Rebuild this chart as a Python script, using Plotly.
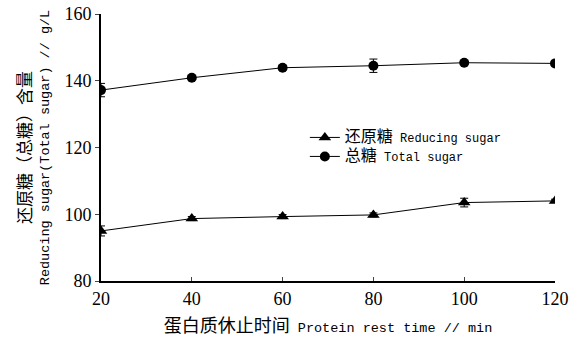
import plotly.graph_objects as go

x_time = [20, 40, 60, 80, 100, 120]
reducing_sugar = [95.0, 98.7, 99.3, 99.8, 103.5, 104.0]
reducing_err = [1.5, 0.6, 0.6, 0.6, 1.3, 0.5]
total_sugar = [137.2, 140.9, 143.9, 144.5, 145.4, 145.2]
total_err = [2.0, 0.6, 0.7, 2.0, 0.6, 0.5]

y_ticks = [80, 100, 120, 140, 160]
x_ticks = [20, 40, 60, 80, 100, 120]

MONO = "Liberation Mono, Noto Sans CJK SC, monospace"
SERIF = "Liberation Serif, Times New Roman, serif"


def cjk(s, size):
    return f'<span style="font-size:{size}px">{s}</span>'


fig = go.Figure()
fig.add_trace(go.Scatter(
    x=x_time, y=reducing_sugar, mode="lines+markers",
    name=cjk("还原糖", 16) + " Reducing sugar",
    line=dict(color="black", width=1),
    marker=dict(symbol="triangle-up", size=11, color="black"),
    error_y=dict(type="data", array=reducing_err, color="black", thickness=1, width=4),
))
fig.add_trace(go.Scatter(
    x=x_time, y=total_sugar, mode="lines+markers",
    name=cjk("总糖", 16) + " Total sugar",
    line=dict(color="black", width=1),
    marker=dict(symbol="circle", size=10, color="black"),
    error_y=dict(type="data", array=total_err, color="black", thickness=1, width=4),
))

fig.update_layout(
    width=582, height=344,
    margin=dict(l=101, r=27, t=14, b=63),
    paper_bgcolor="white", plot_bgcolor="white",
    showlegend=True,
    legend=dict(x=0.449, y=0.592, xanchor="left", yanchor="top",
                bgcolor="rgba(0,0,0,0)", font=dict(family=MONO, size=12, color="black"),
                tracegroupgap=0, itemsizing="trace"),
    xaxis=dict(range=[20, 120], tickvals=x_ticks, ticks="inside", ticklen=4,
               showline=True, linecolor="black", linewidth=2, showgrid=False, zeroline=False,
               automargin=False,
               tickfont=dict(family=SERIF, size=18, color="black"),
               title=dict(text=cjk("蛋白质休止时间", 18) + " Protein rest time // min",
                          font=dict(family=MONO, size=13.5, color="black"), standoff=15)),
    yaxis=dict(range=[80, 160], tickvals=y_ticks, ticks="outside", ticklen=4,
               showline=True, linecolor="black", linewidth=2, showgrid=False, zeroline=False,
               automargin=False,
               tickfont=dict(family=SERIF, size=18, color="black"),
               title=dict(text=cjk("还原糖（总糖）含量", 17) + "<br>Reducing sugar(Total sugar) // g/L",
                          font=dict(family=MONO, size=13.5, color="black"), standoff=12)),
)

fig.write_html("out.html", config={"displayModeBar": False},
               post_script="document.body.style.margin='0';")
